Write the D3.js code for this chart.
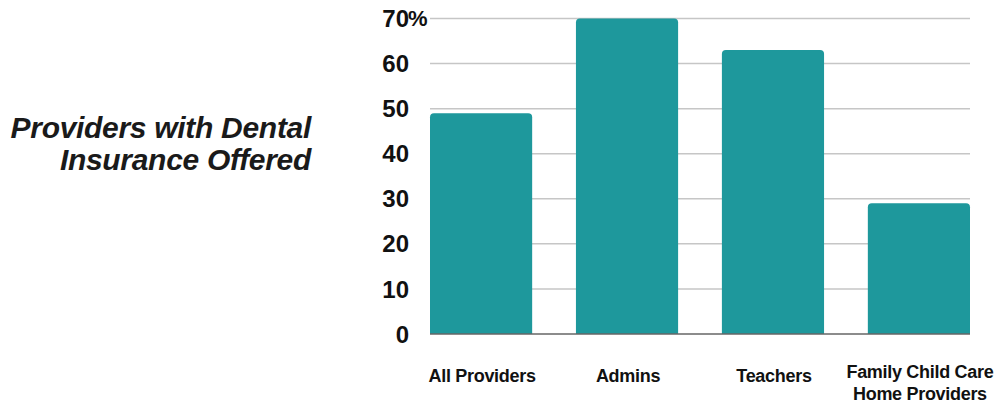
<!DOCTYPE html>
<html>
<head>
<meta charset="utf-8">
<script src="https://cdn.jsdelivr.net/npm/d3@7"></script>
<style>
  body { margin: 0; background: #fff; }
  text { font-family: "Liberation Sans", Arial, sans-serif; }
</style>
</head>
<body>
<svg id="chart" width="1001" height="407"></svg>
<script>
let categories = ["All Providers", "Admins", "Teachers", "Family Child Care|Home Providers"];
let values = [49, 70, 63, 29];
let yTicks = [0, 10, 20, 30, 40, 50, 60, 70];
let titleLines = ["Providers with Dental", "Insurance Offered"];

let svg = d3.select("#chart");
let margin = { left: 430, right: 31, top: 18.5, bottom: 73 };
let w = 1001, h = 407;

let x = d3
	.scaleBand()
	.domain(categories)
	.range([margin.left, w - margin.right])
	.paddingInner(0.3)
	.paddingOuter(0);

let y = d3
	.scaleLinear()
	.domain([0, 70])
	.range([h - margin.bottom, margin.top]);

// gridlines
svg.append("g")
	.selectAll("line")
	.data(yTicks.filter((d) => d > 0))
	.join("line")
	.attr("x1", margin.left)
	.attr("x2", w - margin.right)
	.attr("y1", (d) => y(d))
	.attr("y2", (d) => y(d))
	.attr("stroke", "#c6c6c6")
	.attr("stroke-width", 1.5);

// y labels
svg.append("g")
	.selectAll("text")
	.data(yTicks)
	.join("text")
	.attr("x", 409)
	.attr("y", (d) => y(d))
	.attr("dy", "0.36em")
	.attr("text-anchor", "end")
	.attr("font-size", 24)
	.attr("font-weight", "bold")
	.attr("fill", "#111")
	.text((d) => d);

svg.append("text")
	.attr("x", 408)
	.attr("y", y(70))
	.attr("dy", "0.36em")
	.attr("font-size", 22)
	.attr("font-weight", "bold")
	.attr("letter-spacing", -1)
	.attr("fill", "#111")
	.text("%");

// bars with rounded top corners
let r = 4;
function barPath(x0, y0, bw, y1) {
	return `M${x0},${y1}V${y0 + r}Q${x0},${y0} ${x0 + r},${y0}H${x0 + bw - r}Q${x0 + bw},${y0} ${x0 + bw},${y0 + r}V${y1}Z`;
}

svg.append("g")
	.selectAll("path")
	.data(values)
	.join("path")
	.attr("d", (d, i) => barPath(x(categories[i]), y(d), x.bandwidth(), y(0)))
	.attr("fill", "#1e989c");

// baseline
svg.append("line")
	.attr("x1", margin.left)
	.attr("x2", w - margin.right)
	.attr("y1", y(0))
	.attr("y2", y(0))
	.attr("stroke", "#666")
	.attr("stroke-width", 1.5);

// x labels
svg.append("g")
	.selectAll("text")
	.data(categories)
	.join("text")
	.attr("x", (d) => x(d) + x.bandwidth() / 2 + 1)
	.attr("y", (d) => (d.includes("|") ? 378 : 382))
	.attr("text-anchor", "middle")
	.attr("font-size", 18)
	.attr("font-weight", "bold")
	.attr("letter-spacing", -0.3)
	.attr("fill", "#111")
	.selectAll("tspan")
	.data((d) => d.split("|"))
	.join("tspan")
	.attr("x", function () {
		return d3.select(this.parentNode).attr("x");
	})
	.attr("dy", (d, i) => (i === 0 ? 0 : 22))
	.text((d) => d);

// title
svg.append("text")
	.attr("text-anchor", "end")
	.attr("font-size", 30)
	.attr("font-weight", "bold")
	.attr("font-style", "italic")
	.attr("letter-spacing", -0.3)
	.attr("fill", "#1a1a1a")
	.selectAll("tspan")
	.data(titleLines)
	.join("tspan")
	.attr("x", 311)
	.attr("y", (d, i) => 138 + i * 32)
	.text((d) => d);
</script>
</body>
</html>
